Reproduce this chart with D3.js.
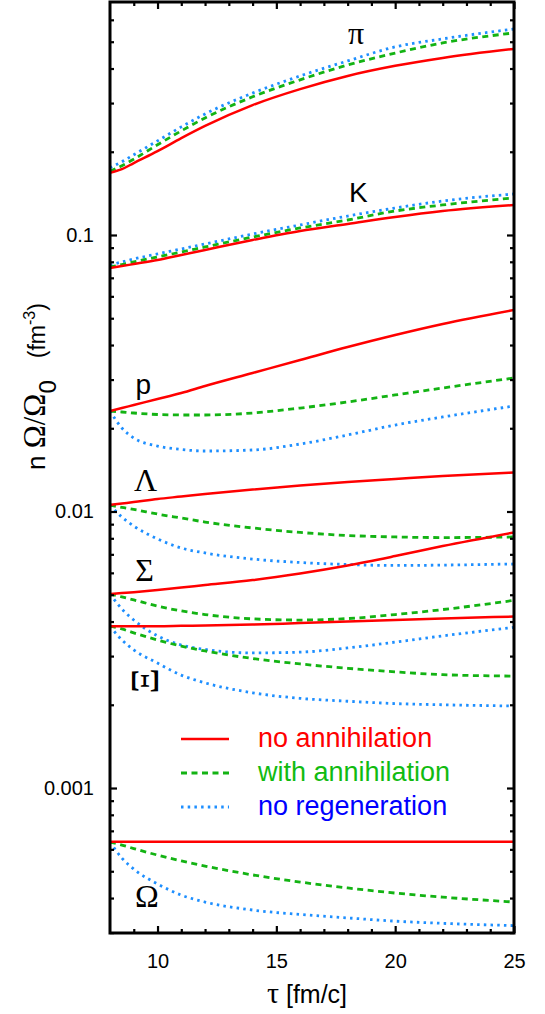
<!DOCTYPE html>
<html>
<head>
<meta charset="utf-8">
<script src="https://cdnjs.cloudflare.com/ajax/libs/d3/7.8.5/d3.min.js"></script>
<style>
  body { margin: 0; background: #fff; }
  text { font-family: "Liberation Sans", Arial, sans-serif; }
  .greek { font-family: "Liberation Serif", "Times New Roman", serif; }
</style>
</head>
<body>
<div id="chart"></div>
<script>
var width = 545,
    height = 1014;

// time grid (fm/c)
var tau = [8, 8.5, 9, 10, 11, 12, 14, 16, 18, 20, 22, 25];

// pi
var piNoAnn    = [0.168, 0.173, 0.182, 0.201, 0.224, 0.248, 0.295, 0.337, 0.376, 0.409, 0.437, 0.471];
var piWithAnn  = [0.170, 0.178, 0.188, 0.212, 0.238, 0.265, 0.316, 0.364, 0.412, 0.455, 0.495, 0.538];
var piNoRegen  = [0.175, 0.184, 0.195, 0.219, 0.246, 0.274, 0.326, 0.376, 0.426, 0.479, 0.512, 0.556];
// K
var kNoAnn     = [0.0760, 0.0772, 0.0785, 0.0812, 0.0847, 0.0883, 0.0959, 0.1034, 0.1096, 0.1162, 0.1221, 0.1284];
var kWithAnn   = [0.0766, 0.0782, 0.0799, 0.0833, 0.0868, 0.0905, 0.0983, 0.1060, 0.1133, 0.1221, 0.1284, 0.1361];
var kNoRegen   = [0.0779, 0.0799, 0.0819, 0.0854, 0.0890, 0.0928, 0.1008, 0.1087, 0.1171, 0.1252, 0.1327, 0.1407];
// p
var pNoAnn     = [0.02309, 0.02367, 0.02427, 0.02551, 0.02683, 0.02844, 0.03169, 0.03531, 0.03934, 0.04348, 0.04766, 0.05355];
var pWithAnn   = [0.02309, 0.02290, 0.02271, 0.02243, 0.02234, 0.02234, 0.02271, 0.02367, 0.02489, 0.02639, 0.02797, 0.03040];
var pNoRegen   = [0.02309, 0.02004, 0.01844, 0.01725, 0.01676, 0.01655, 0.01669, 0.01754, 0.01891, 0.02055, 0.02197, 0.02407];
// Lambda
var lamNoAnn   = [0.01056, 0.01069, 0.01082, 0.01110, 0.01133, 0.01157, 0.01201, 0.01242, 0.01279, 0.01311, 0.01344, 0.01384];
var lamWithAnn = [0.01056, 0.01034, 0.01017, 0.00979, 0.00947, 0.00916, 0.00872, 0.00840, 0.00819, 0.00809, 0.00805, 0.00809];
var lamNoRegen = [0.01056, 0.00955, 0.00886, 0.00796, 0.00738, 0.00708, 0.00673, 0.00654, 0.00643, 0.00638, 0.00640, 0.00646];
// Sigma
var sigNoAnn   = [0.00503, 0.00507, 0.00511, 0.00520, 0.00531, 0.00542, 0.00565, 0.00597, 0.00638, 0.00690, 0.00750, 0.00840];
var sigWithAnn = [0.00503, 0.00491, 0.00479, 0.00455, 0.00437, 0.00424, 0.00409, 0.00405, 0.00410, 0.00424, 0.00442, 0.00477];
var sigNoRegen = [0.00503, 0.00444, 0.00405, 0.00355, 0.00329, 0.00317, 0.00308, 0.00310, 0.00321, 0.00337, 0.00355, 0.00381];
// Xi
var xiNoAnn    = [0.00385, 0.00385, 0.00385, 0.00385, 0.00386, 0.00387, 0.00390, 0.00395, 0.00400, 0.00405, 0.00410, 0.00417];
var xiWithAnn  = [0.00385, 0.00376, 0.00364, 0.00343, 0.00326, 0.00313, 0.00294, 0.00281, 0.00271, 0.00263, 0.00257, 0.00254];
var xiNoRegen  = [0.00385, 0.00343, 0.00316, 0.00283, 0.00256, 0.00240, 0.00221, 0.00211, 0.00206, 0.00202, 0.00200, 0.00198];
// Omega
var omNoAnn    = [0.000639, 0.000639, 0.000639, 0.000639, 0.000639, 0.000639, 0.000639, 0.000639, 0.000639, 0.000639, 0.000639, 0.000639];
var omWithAnn  = [0.000638, 0.000622, 0.000604, 0.000572, 0.000545, 0.000522, 0.000485, 0.000457, 0.000435, 0.000417, 0.000403, 0.000387];
var omNoRegen  = [0.000638, 0.000558, 0.000509, 0.000450, 0.000410, 0.000387, 0.000362, 0.000349, 0.000339, 0.000330, 0.000324, 0.000318];

var xTicks = [10, 15, 20, 25];
var yTicks = [0.001, 0.01, 0.1];
var yTickLabels = ["0.001", "0.01", "0.1"];

var legendNames = ["no annihilation", "with annihilation", "no regeneration"];

// particle labels, placed in data coordinates
var labels = [
    {name: "π", tau: 18.35, val: 0.49, serif: true, size: 32},
    {name: "K", tau: 18.45, val: 0.1315, serif: false, size: 28},
    {name: "p", tau: 9.4, val: 0.0265, serif: false, size: 28},
    {name: "Λ", tau: 9.5, val: 0.0119, serif: true, size: 32},
    {name: "Σ", tau: 9.45, val: 0.0056, serif: true, size: 32},
    {name: "Ξ", tau: 9.45, val: 0.00244, serif: true, size: 40, rotate: true},
    {name: "Ω", tau: 9.55, val: 0.000370, serif: true, size: 32}
];

var svg = d3.select("#chart").append("svg")
    .attr("width", width)
    .attr("height", height);

var x = d3.scaleLinear().domain([8, 25]).range([110, 514]);
var y = d3.scaleLog().domain([0.000299, 0.696]).range([933, 2]);

var styles = [
    {color: "#ff0000", dash: null, w: 2.5},
    {color: "#13b313", dash: "6,4.5", w: 2.8},
    {color: "#1e8fff", dash: "2.5,4.2", w: 2.8}
];
var textColors = ["#ff0000", "#11bb11", "#0000ff"];

var series = [
    [piNoAnn, piWithAnn, piNoRegen],
    [kNoAnn, kWithAnn, kNoRegen],
    [pNoAnn, pWithAnn, pNoRegen],
    [lamNoAnn, lamWithAnn, lamNoRegen],
    [sigNoAnn, sigWithAnn, sigNoRegen],
    [xiNoAnn, xiWithAnn, xiNoRegen],
    [omNoAnn, omWithAnn, omNoRegen]
];

svg.append("clipPath").attr("id", "clip")
    .append("rect")
    .attr("x", x(8)).attr("y", y.range()[1])
    .attr("width", x(25) - x(8)).attr("height", y.range()[0] - y.range()[1]);

// 1) CURVES
var line = d3.line()
    .x(function(d, i) { return x(tau[i]); })
    .y(function(d) { return y(d); })
    .curve(d3.curveMonotoneX);

var curves = svg.append("g").attr("clip-path", "url(#clip)");

// draw dotted first, then dashed, then solid on top
[2, 1, 0].forEach(function(k) {
    series.forEach(function(s) {
        curves.append("path")
            .attr("d", line(s[k]))
            .attr("fill", "none")
            .attr("stroke", styles[k].color)
            .attr("stroke-width", styles[k].w)
            .attr("stroke-dasharray", styles[k].dash);
    });
});

// 2) AXES (ticks pointing inward)
function minorLog() {
    var t = [];
    [0.0001, 0.001, 0.01, 0.1].forEach(function(p) {
        for (var m = 2; m <= 9; m++) {
            var v = m * p;
            if (v > y.domain()[0] && v < y.domain()[1]) t.push(v);
        }
    });
    return t;
}
var xMinor = d3.range(9, 25).filter(function(v) { return xTicks.indexOf(v) < 0; });

svg.append("g")
    .attr("transform", "translate(" + x(8) + ",0)")
    .call(d3.axisLeft(y).tickValues(yTicks).tickSizeInner(-7).tickSizeOuter(0).tickPadding(16)
        .tickFormat(function(d, i) { return yTickLabels[i]; }));
svg.append("g")
    .attr("transform", "translate(" + x(8) + ",0)")
    .call(d3.axisLeft(y).tickValues(minorLog()).tickSizeInner(-4).tickSizeOuter(0).tickFormat(""));
svg.append("g")
    .attr("transform", "translate(" + x(25) + ",0)")
    .call(d3.axisRight(y).tickValues(yTicks).tickSizeInner(-7).tickSizeOuter(0).tickFormat(""));
svg.append("g")
    .attr("transform", "translate(" + x(25) + ",0)")
    .call(d3.axisRight(y).tickValues(minorLog()).tickSizeInner(-4).tickSizeOuter(0).tickFormat(""));

svg.append("g")
    .attr("transform", "translate(0," + y.range()[0] + ")")
    .call(d3.axisBottom(x).tickValues(xTicks).tickSizeInner(-7).tickSizeOuter(0).tickPadding(21)
        .tickFormat(d3.format("d")));
svg.append("g")
    .attr("transform", "translate(0," + y.range()[0] + ")")
    .call(d3.axisBottom(x).tickValues(xMinor).tickSizeInner(-4).tickSizeOuter(0).tickFormat(""));
svg.append("g")
    .attr("transform", "translate(0," + y.range()[1] + ")")
    .call(d3.axisTop(x).tickValues(xTicks).tickSizeInner(-7).tickSizeOuter(0).tickFormat(""));
svg.append("g")
    .attr("transform", "translate(0," + y.range()[1] + ")")
    .call(d3.axisTop(x).tickValues(xMinor).tickSizeInner(-4).tickSizeOuter(0).tickFormat(""));

svg.selectAll(".domain").remove();
svg.selectAll(".tick line").attr("stroke", "#000").attr("stroke-width", 2.2);
svg.selectAll(".tick text")
    .style("font-family", "'Liberation Sans', Arial, sans-serif")
    .style("font-size", "20px")
    .attr("fill", "#000");

// frame
svg.append("rect")
    .attr("x", x(8)).attr("y", y.range()[1])
    .attr("width", x(25) - x(8)).attr("height", y.range()[0] - y.range()[1])
    .attr("fill", "none")
    .attr("stroke", "#000")
    .attr("stroke-width", 3);

// axis titles
var xt = svg.append("text")
    .attr("x", 307).attr("y", 1003)
    .attr("text-anchor", "middle")
    .style("font-size", "25px");
xt.append("tspan").attr("class", "greek").style("font-size", "30px").text("τ");
xt.append("tspan").text(" [fm/c]");

var yt = svg.append("text")
    .attr("transform", "translate(45,470) rotate(-90)")
    .style("font-size", "26px");
yt.append("tspan").text("n ");
yt.append("tspan").attr("class", "greek").style("font-size", "31px").text("Ω/Ω");
yt.append("tspan").attr("dy", 11).style("font-size", "24px").text("0");
yt.append("tspan").attr("dy", -11).attr("dx", 22).style("font-size", "23px").text("(fm");
yt.append("tspan").attr("dy", -10).style("font-size", "16px").text("-3");
yt.append("tspan").attr("dy", 10).style("font-size", "23px").text(")");

// 3) PARTICLE LABELS
labels.forEach(function(l) {
    var t = svg.append("text")
        .attr("text-anchor", "middle")
        .attr("fill", "#000")
        .style("font-size", l.size + "px")
        .text(l.name);
    if (l.serif) t.attr("class", "greek");
    if (l.rotate) {
        t.attr("transform", "translate(" + x(l.tau) + "," + y(l.val) + ") rotate(-90)")
            .attr("dy", "0.35em");
    } else {
        t.attr("x", x(l.tau)).attr("y", y(l.val));
    }
});

// 4) LEGEND
var legend = svg.append("g");
legendNames.forEach(function(name, i) {
    var ly = 739 + i * 34;
    legend.append("line")
        .attr("x1", 181).attr("x2", 229)
        .attr("y1", ly).attr("y2", ly)
        .attr("stroke", styles[i].color)
        .attr("stroke-width", styles[i].w)
        .attr("stroke-dasharray", styles[i].dash);
    legend.append("text")
        .attr("x", 258).attr("y", ly + 8)
        .attr("fill", textColors[i])
        .style("font-size", "27px")
        .text(name);
});
</script>
</body>
</html>
